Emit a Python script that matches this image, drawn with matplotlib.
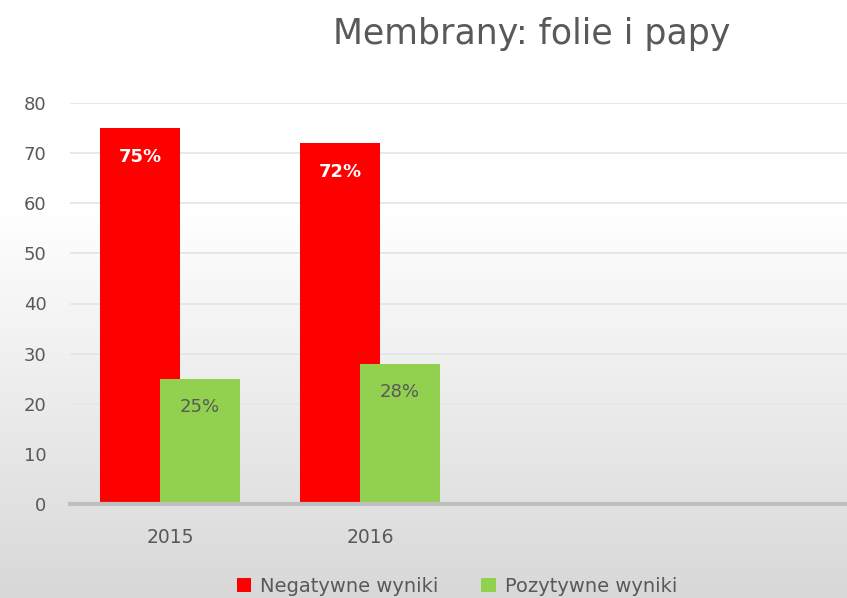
import numpy as np
import matplotlib
matplotlib.use("Agg")
import matplotlib.pyplot as plt

# data
categories = ["2015", "2016", "", ""]
negatywne = [75, 72, None, None]
pozytywne = [25, 28, None, None]
neg_labels = ["75%", "72%"]
poz_labels = ["25%", "28%"]

RED = "#ff0000"
GREEN = "#92d050"
TXT = "#595959"

W, H = 847, 598
fig = plt.figure(figsize=(W / 100, H / 100), dpi=100)

# background: white fading to light grey towards the bottom
bg = fig.add_axes([0, 0, 1, 1], zorder=-10)
yy = np.linspace(0, 1, 300)
shade = np.clip((yy - 0.35) / 0.65, 0, 1)
vals = 1.0 - shade * (39 / 255)
grad = np.repeat(vals[:, None], 2, axis=1)
grad = np.stack([grad, grad, grad], axis=-1)
bg.imshow(grad, aspect="auto", extent=[0, 1, 0, 1], origin="upper")
bg.axis("off")

# plot area: 70px .. 870px (runs off the right edge), y 0 at 504px, 80 at 103px
x0, x1 = 70, 870
y0, y1 = 504, 103
ax = fig.add_axes([x0 / W, 1 - y0 / H, (x1 - x0) / W, (y0 - y1) / H])
ax.patch.set_alpha(0)

n = len(categories)
xs = np.arange(n)
w = 0.4
off = 0.15
for i in range(n):
    if negatywne[i] is not None:
        ax.bar(xs[i] - off, negatywne[i], w, color=RED, zorder=2,
               label="Negatywne wyniki" if i == 0 else None)
    if pozytywne[i] is not None:
        ax.bar(xs[i] + off, pozytywne[i], w, color=GREEN, zorder=3,
               label="Pozytywne wyniki" if i == 0 else None)

for i, lab in enumerate(neg_labels):
    ax.text(xs[i] - off, negatywne[i] - 3.9, lab, ha="center", va="top",
            color="white", fontsize=13, fontweight="bold", zorder=5)
for i, lab in enumerate(poz_labels):
    ax.text(xs[i] + off, pozytywne[i] - 3.9, lab, ha="center", va="top",
            color=TXT, fontsize=13, zorder=5)

ax.set_xlim(-0.5, n - 0.5)
ax.set_ylim(0, 80)
ax.set_yticks(range(0, 81, 10))
ax.set_xticks(xs)
ax.set_xticklabels(categories)
ax.yaxis.grid(True, color="#e6e6e6", linewidth=1.3, zorder=0)
ax.set_axisbelow(True)
for s in ["top", "right", "left"]:
    ax.spines[s].set_visible(False)
ax.spines["bottom"].set_color("#bfbfbf")
ax.spines["bottom"].set_linewidth(3)
ax.spines["bottom"].set_zorder(4)
ax.tick_params(axis="both", length=0, labelsize=13, labelcolor=TXT)
ax.tick_params(axis="x", labelsize=13.5, pad=17)
ax.tick_params(axis="y", pad=17)

fig.text(532 / W, 1 - 34 / H, "Membrany: folie i papy", ha="center", va="center",
         fontsize=25, color=TXT)

handles, labels = ax.get_legend_handles_labels()
fig.legend(handles, labels, loc="center", bbox_to_anchor=(457 / W, 1 - 586 / H),
           ncol=2, frameon=False, fontsize=14, labelcolor=TXT,
           handlelength=0.75, handleheight=0.75, handletextpad=0.45, columnspacing=2.2)

fig.savefig("out.png", dpi=100)
